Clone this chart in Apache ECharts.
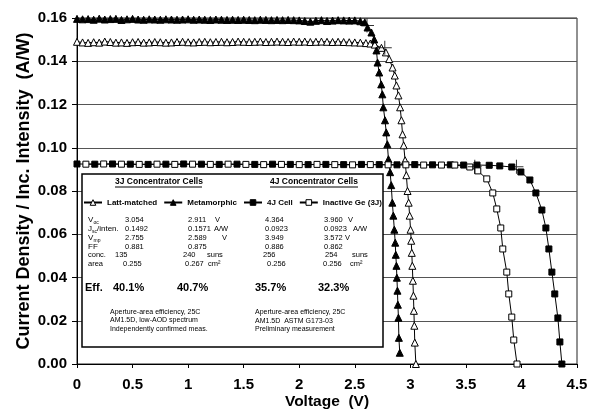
<!DOCTYPE html>
<html><head><meta charset="utf-8">
<script src="https://cdn.jsdelivr.net/npm/echarts@6/dist/echarts.min.js"></script>
<style>html,body{margin:0;padding:0;background:#fff}#c{width:594px;height:410px}</style>
</head><body><div id="c"></div>
<script>
// ---------- data (Voltage V, Current density / intensity A/W) ----------
const lattMatched = [
[0.00,.1490],[0.05,.1487],[0.10,.1485],[0.15,.1488],[0.20,.1486],[0.25,.1491],[0.30,.1489],[0.35,.1486],[0.40,.1487],[0.45,.1485],
[0.50,.1488],[0.55,.1489],[0.60,.1486],[0.65,.1487],[0.70,.1489],[0.75,.1488],[0.80,.1486],[0.85,.1487],[0.90,.1489],[0.95,.1490],
[1.00,.1488],[1.05,.1487],[1.10,.1489],[1.15,.1490],[1.20,.1488],[1.25,.1489],[1.30,.1490],[1.35,.1488],[1.40,.1489],[1.45,.1491],
[1.50,.1490],[1.55,.1489],[1.60,.1490],[1.65,.1491],[1.70,.1489],[1.75,.1490],[1.80,.1491],[1.85,.1490],[1.90,.1489],[1.95,.1491],
[2.00,.1490],[2.05,.1491],[2.10,.1489],[2.15,.1490],[2.20,.1491],[2.25,.1490],[2.30,.1489],[2.35,.1490],[2.40,.1489],[2.45,.1488],
[2.50,.1487],[2.55,.1486],[2.60,.1484],[2.64,.1482],[2.68,.1477],[2.74,.1462],[2.78,.1441],[2.81,.1410],[2.84,.1371],[2.86,.1334],
[2.875,.1288],[2.893,.1242],[2.908,.1187],[2.92,.1127],[2.93,.1062],[2.94,.1011],[2.953,.0942],[2.964,.0873],[2.975,.0800],[2.985,.0746],
[2.994,.0686],[3.002,.0621],[3.008,.0570],[3.013,.0514],[3.018,.0454],[3.023,.0385],[3.028,.0316],[3.032,.0246],[3.036,.0177],[3.040,.0099],
[3.050,.0000]
];
const metamorphic = [
[0.00,.1596],[0.05,.1594],[0.10,.1595],[0.15,.1592],[0.20,.1597],[0.25,.1593],[0.30,.1595],[0.35,.1596],[0.40,.1591],[0.45,.1594],
[0.50,.1596],[0.55,.1593],[0.60,.1592],[0.65,.1594],[0.70,.1593],[0.75,.1592],[0.80,.1594],[0.85,.1593],[0.90,.1592],[0.95,.1593],
[1.00,.1594],[1.05,.1592],[1.10,.1593],[1.15,.1592],[1.20,.1591],[1.25,.1593],[1.30,.1592],[1.35,.1591],[1.40,.1592],[1.45,.1591],
[1.50,.1592],[1.55,.1591],[1.60,.1590],[1.65,.1592],[1.70,.1591],[1.75,.1590],[1.80,.1591],[1.85,.1590],[1.90,.1591],[1.95,.1590],
[2.00,.1589],[2.05,.1586],[2.10,.1583],[2.15,.1587],[2.20,.1590],[2.25,.1586],[2.30,.1588],[2.35,.1590],[2.40,.1589],[2.45,.1588],
[2.50,.1589],[2.55,.1585],[2.59,.1580],[2.615,.1556],[2.65,.1533],[2.675,.1501],[2.695,.1450],[2.705,.1394],[2.72,.1348],[2.738,.1293],
[2.748,.1247],[2.757,.1187],[2.772,.1127],[2.783,.1071],[2.793,.1016],[2.803,.0947],[2.818,.0887],[2.828,.0827],[2.838,.0746],[2.847,.0686],
[2.856,.0621],[2.864,.0561],[2.869,.0505],[2.875,.0454],[2.879,.0399],[2.884,.0339],[2.888,.0274],[2.893,.0214],[2.897,.0121],[2.905,.0052]
];
const cell4J = [
[0.00,.0925],[0.16,.0924],[0.32,.0925],[0.48,.0924],[0.64,.0923],[0.80,.0924],[0.96,.0925],[1.12,.0924],[1.28,.0923],[1.44,.0924],
[1.60,.0923],[1.76,.0924],[1.92,.0923],[2.08,.0922],[2.24,.0923],[2.40,.0922],[2.56,.0923],[2.72,.0922],[2.88,.0921],[3.04,.0922],
[3.20,.0921],[3.36,.0921],[3.48,.0920],[3.60,.0920],[3.71,.0919],[3.805,.0916],[3.913,.0911],[3.995,.0888],[4.076,.0851],[4.13,.0791],
[4.184,.0712],[4.22,.0629],[4.247,.0532],[4.274,.0425],[4.30,.0324],[4.328,.0213],[4.346,.0102],[4.364,.0000]
];
const inactiveGe = [
[0.08,.0924],[0.24,.0925],[0.40,.0924],[0.56,.0923],[0.72,.0924],[0.88,.0923],[1.04,.0924],[1.20,.0923],[1.36,.0924],[1.52,.0923],
[1.68,.0922],[1.84,.0923],[2.00,.0922],[2.16,.0923],[2.32,.0922],[2.48,.0921],[2.64,.0922],[2.80,.0921],[2.96,.0921],[3.12,.0920],
[3.28,.0920],[3.40,.0920],[3.535,.0911],[3.607,.0893],[3.688,.0856],[3.742,.0791],[3.778,.0717],[3.814,.0629],[3.832,.0532],[3.868,.0425],
[3.886,.0324],[3.913,.0217],[3.931,.0111],[3.960,.0000]
];
const maxPowerPoints = [[2.61,.1565],[2.77,.1462],[3.58,.0912],[3.955,.0912]];

// ---------- table text ----------
const cellNames = ['Latt-matched','Metamorphic','4J Cell','Inactive Ge (3J)'];
const groupTitles = ['3J Concentrator Cells','4J Concentrator Cells'];
const vocVals  = ['3.054','2.911','4.364','3.960'];
const jscVals  = ['0.1492','0.1571','0.0923','0.0923'];
const vmpVals  = ['2.755','2.589','3.949','3.572'];
const ffVals   = ['0.881','0.875','0.886','0.862'];
const concVals = ['135','240','256','254'];
const areaVals = ['0.255','0.267','0.256','0.256'];
const effVals  = ['40.1%','40.7%','35.7%','32.3%'];
const notes3J = ['Aperture-area efficiency, 25C','AM1.5D, low-AOD spectrum','Independently confirmed meas.'];
const notes4J = ['Aperture-area efficiency, 25C','AM1.5D  ASTM G173-03','Preliminary measurement'];

// ---------- layout ----------
const FF = '"Liberation Sans", Arial, sans-serif';
const els = [];
function T(x, y, text, size, bold, extra) {
  els.push(Object.assign({type:'text', x:x, y:y, z:50,
    style:{text:text, fill:'#000', font:(bold?'bold ':'')+size+'px '+FF, align:'left', verticalAlign:'middle'}}, extra||{}));
}
els.push({type:'rect', z:30, shape:{x:82, y:174, width:301, height:173},
  style:{fill:'#fff', stroke:'#000', lineWidth:1.5}});
// group titles with underline
T(115,182,groupTitles[0],8.5,true); T(270,182,groupTitles[1],8.5,true);
els.push({type:'line', z:50, shape:{x1:115,y1:187,x2:202,y2:187}, style:{stroke:'#000',lineWidth:1}});
els.push({type:'line', z:50, shape:{x1:270,y1:187,x2:358,y2:187}, style:{stroke:'#000',lineWidth:1}});
// row labels
const rowY = [220, 229, 238, 246.5, 255, 264];
T(88,rowY[0],'V',8); T(93.5,rowY[0]+2.5,'oc',5);
T(88,rowY[1],'J',8); T(92,rowY[1]+2.5,'sc',5); T(97,rowY[1],'/inten.',8);
T(88,rowY[2],'V',8); T(93.5,rowY[2]+2.5,'mp',5);
T(88,rowY[3],'FF',8); T(88,rowY[4],'conc.',7.5); T(88,rowY[5],'area',7.5);
const colX = [125,188,265,324];
[vocVals,jscVals,vmpVals,ffVals].forEach((arr,r)=>arr.forEach((v,c)=>T(colX[c],rowY[r],v,7.5)));
const concX = [115,183,263,325]; concVals.forEach((v,c)=>T(concX[c],rowY[4],v,7.5));
const areaX = [123,185,267,323]; areaVals.forEach((v,c)=>T(areaX[c],rowY[5],v,7.5));
T(215,rowY[0],'V',7.5); T(348,rowY[0],'V',7.5);
T(214,rowY[1],'A/W',7.5); T(353,rowY[1],'A/W',7.5);
T(222,rowY[2],'V',7.5); T(345,rowY[2],'V',7.5);
T(207,rowY[4],'suns',7.5); T(352,rowY[4],'suns',7.5);
T(208,rowY[5],'cm\u00B2',7.5); T(350,rowY[5],'cm\u00B2',7.5);
T(85,288,'Eff.',11,true);
const effX = [113,177,255,318]; effVals.forEach((v,c)=>T(effX[c],288,v,11,true));
notes3J.forEach((s,i)=>T(110,312+i*8.3,s,7));
notes4J.forEach((s,i)=>T(255,312.5+i*8.3,s,7));

const chart = echarts.init(document.getElementById('c'), null, {renderer:'canvas'});
const lineSeries = (name, data, symbol, filled, size) => ({
  name, type:'line', data, symbol, symbolSize:size, showSymbol:true, clip:false,
  lineStyle:{color:'#000', width:1},
  itemStyle:{color: filled?'#000':'#fff', borderColor:'#000', borderWidth:1},
  emphasis:{disabled:true}, animation:false
});
chart.setOption({
  backgroundColor:'#fff',
  animation:false,
  grid:{left:77, right:17, top:18, bottom:46, containLabel:false, outerBoundsMode:'none',
    show:true, borderColor:'#222', borderWidth:1, backgroundColor:'transparent'},
  xAxis:{type:'value', min:0, max:4.5, interval:0.5,
    name:'Voltage  (V)', nameLocation:'middle', nameGap:30, nameMoveOverlap:false,
    nameTextStyle:{fontFamily:FF, fontWeight:'bold', fontSize:15.5, color:'#000'},
    axisLine:{show:true, lineStyle:{color:'#000', width:1}},
    axisTick:{show:true, length:4, lineStyle:{color:'#000'}},
    axisLabel:{margin:13, fontFamily:FF, fontWeight:'bold', fontSize:15, color:'#000'},
    splitLine:{show:false}},
  yAxis:{type:'value', min:0, max:0.16, interval:0.02,
    name:'Current Density / Inc. Intensity  (A/W)', nameLocation:'middle', nameGap:44, nameMoveOverlap:false,
    nameTextStyle:{fontFamily:FF, fontWeight:'bold', fontSize:18, color:'#000'},
    axisLine:{show:true, lineStyle:{color:'#000', width:1}},
    axisTick:{show:true, length:5, lineStyle:{color:'#000'}},
    axisLabel:{margin:10, fontFamily:FF, fontWeight:'bold', fontSize:15, color:'#000',
      formatter:v=>v.toFixed(2)},
    splitLine:{show:true, lineStyle:{color:'#555', width:1}}},
  legend:{left:83, top:198.5, z:45, padding:0, itemWidth:18, itemHeight:7, itemGap:6,
    textStyle:{fontFamily:FF, fontWeight:'bold', fontSize:8, color:'#000'},
    selectedMode:false,
    data:[
      {name:cellNames[0], itemStyle:{color:'#fff', borderColor:'#000', borderWidth:1}},
      {name:cellNames[1], itemStyle:{color:'#000', borderColor:'#000', borderWidth:1}},
      {name:cellNames[2], itemStyle:{color:'#000', borderColor:'#000', borderWidth:1}},
      {name:cellNames[3], itemStyle:{color:'#fff', borderColor:'#000', borderWidth:1}}
    ]},
  graphic:{elements:els},
  series:[
    lineSeries(cellNames[0], lattMatched, 'triangle', false, 7),
    lineSeries(cellNames[1], metamorphic, 'triangle', true, 7),
    lineSeries(cellNames[2], cell4J, 'rect', true, 6),
    lineSeries(cellNames[3], inactiveGe, 'rect', false, 6),
    {name:'Max power', type:'scatter', data:maxPowerPoints, z:4,
     symbol:'path://M0,6.5H14V7.5H0Z M6.5,0H7.5V14H6.5Z', symbolSize:14,
     itemStyle:{color:'#000'}, emphasis:{disabled:true}, animation:false}
  ]
});
</script></body></html>
